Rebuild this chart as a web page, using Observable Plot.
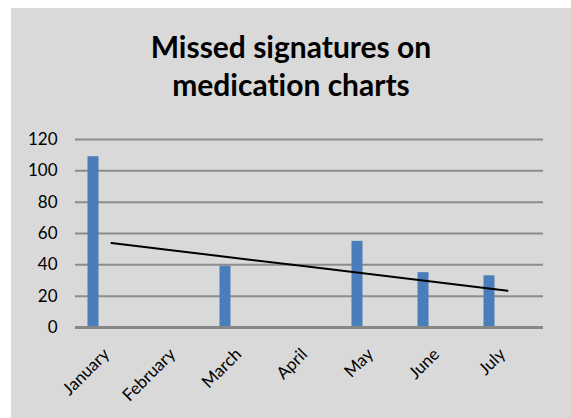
<!DOCTYPE html>
<html>
<head>
<meta charset="utf-8">
<script src="https://cdn.jsdelivr.net/npm/d3@7"></script>
<script src="https://cdn.jsdelivr.net/npm/@observablehq/plot@0.6"></script>
<style>
  html, body { margin: 0; padding: 0; background: #ffffff; }
  #frame {
    position: absolute; left: 11px; top: 8px; width: 560px; height: 410px;
    background: #d9d9d9; overflow: hidden;
    font-variant-ligatures: none; font-feature-settings: "liga" 0, "clig" 0;
  }
  #title {
    height: 120px; box-sizing: border-box; padding-top: 19px;
    font-family: Lato, "Open Sans", sans-serif; font-weight: bold; font-size: 30px;
    line-height: 38px; text-align: center; color: #000;
  }
  #chart svg { display: block; font-variant-ligatures: none; }
</style>
</head>
<body>
<div id="frame">
  <div id="title">Missed signatures on<br>medication charts</div>
  <div id="chart"></div>
</div>
<script>
const months = ["January", "February", "March", "April", "May", "June", "July"];
const missed = [109, 0, 39, 0, 55, 35, 33];
const yTicks = [0, 20, 40, 60, 80, 100, 120];

const data = months.map((m, i) => ({month: m, value: missed[i]}));

// linear trendline (least squares over category index)
const xs = months.map((_, i) => i + 1);
const mx = d3.mean(xs), my = d3.mean(missed);
const slope = d3.sum(xs, (x, i) => (x - mx) * (missed[i] - my)) / d3.sum(xs, x => (x - mx) ** 2);
const trend = months.map((m, i) => ({month: m, value: my + slope * (xs[i] - mx)}));

const chart = Plot.plot({
  width: 560,
  height: 290,
  marginLeft: 64,
  marginRight: 28,
  marginTop: 11,
  marginBottom: 91,
  style: {background: "transparent", fontFamily: "Lato, 'Open Sans', sans-serif", fontSize: "17px", color: "#000"},
  x: {domain: months, padding: 0},
  y: {domain: [0, 120]},
  marks: [
    Plot.ruleY(yTicks.filter(d => d > 0), {stroke: "#8c8c8c", strokeWidth: 2}),
    Plot.barY(data, {x: "month", y: "value", fill: "#4a7ebb", insetLeft: 27.5, insetRight: 27.5, dx: -18}),
    Plot.ruleY([0], {stroke: "#878787", strokeWidth: 3}),
    Plot.line(trend, {x: "month", y: "value", stroke: "#000", strokeWidth: 2}),
    Plot.axisY({ticks: yTicks, tickSize: 0, tickPadding: 18, tickFormat: d => String(d), fontSize: 17, label: null}),
    Plot.axisX({tickSize: 0, tickPadding: 24, dx: -5, tickRotate: -45, fontSize: 17, label: null})
  ]
});
document.getElementById("chart").appendChild(chart);
</script>
</body>
</html>
